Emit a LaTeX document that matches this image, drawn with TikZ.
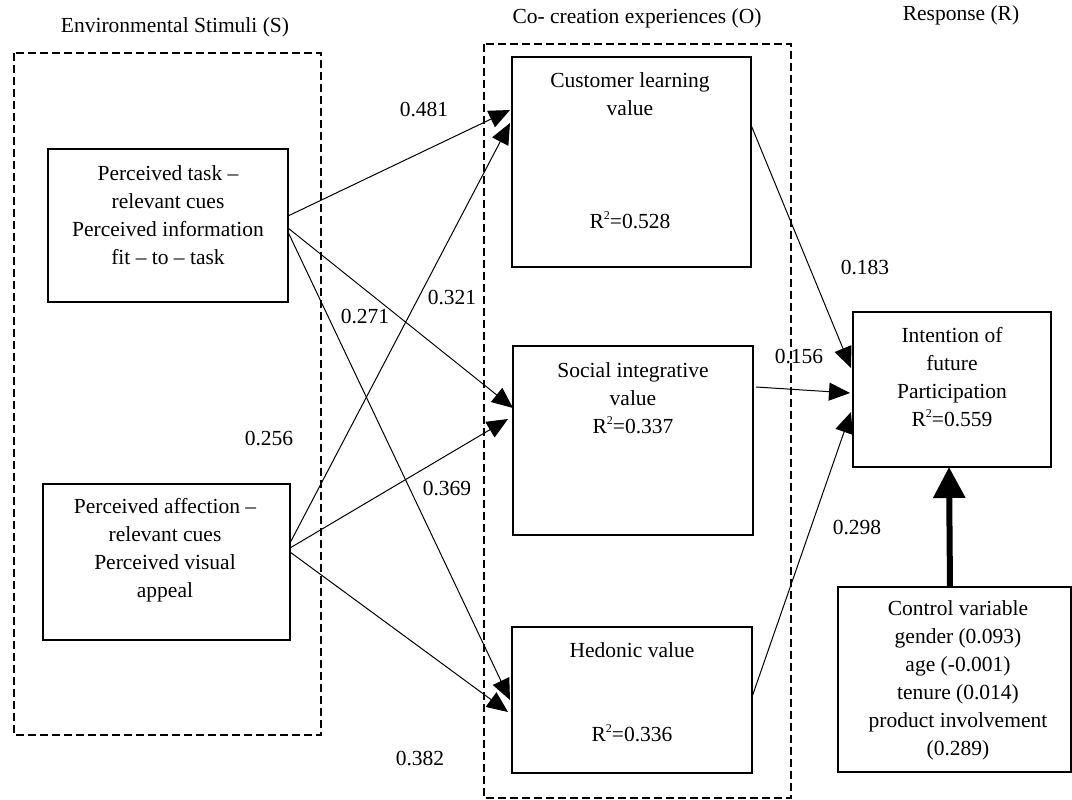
\documentclass[tikz,border=0pt]{standalone}
\usepackage{fontspec}
\setmainfont{Liberation Serif}
\usetikzlibrary{arrows.meta}
\newcommand{\sqr}{\raisebox{0.42em}{\fontsize{12}{12}\selectfont 2}}
\begin{document}
\begin{tikzpicture}[x=1pt,y=-1pt,
  font=\fontsize{21.5}{28}\selectfont,
  grp/.style={draw, line width=2pt, dash pattern=on 8pt off 4pt},
  box/.style={draw, line width=2pt, inner sep=0pt, outer sep=0pt},
  txt/.style={inner sep=0pt, align=center},
  lbl/.style={inner sep=0pt},
  arr/.style={line width=1pt, -{Triangle[length=21pt,width=18pt]}},
  bigarr/.style={line width=6pt, -{Triangle[length=31pt,width=31pt]}}
]
\useasboundingbox (0,0) rectangle (1072,800);
% group frames
\draw[grp] (14,53) rectangle (321,735);
\draw[grp] (484,44) rectangle (791,798);
% titles
\node[txt] (tS) at (175,27) {Environmental Stimuli (S)};
\node[txt] (tO) at (637,18) {Co- creation experiences (O)};
\node[txt] (tR) at (961,15) {Response (R)};
% boxes
\node[box, minimum width=240pt, minimum height=153pt] (task) at (168,225.5) {};
\node[box, minimum width=247pt, minimum height=156pt] (aff) at (166.5,562) {};
\node[box, minimum width=239pt, minimum height=210pt] (clv) at (631.5,162) {};
\node[box, minimum width=240pt, minimum height=189pt] (siv) at (633,440.5) {};
\node[box, minimum width=240pt, minimum height=146pt] (hed) at (632,700) {};
\node[box, minimum width=198pt, minimum height=155pt] (int) at (952,389.5) {};
\node[box, minimum width=233pt, minimum height=185pt] (ctl) at (954.5,679.5) {};
% box texts
\node[txt] (taskT) at (168,215) {Perceived task --\\relevant cues\\Perceived information\\fit -- to -- task};
\node[txt] (affT) at (165,550) {Perceived affection --\\relevant cues\\Perceived visual\\appeal};
\node[txt] (clvT) at (630,94) {Customer learning\\value};
\node[txt] (clvR) at (630,220) {R\sqr=0.528};
\node[txt] (sivT) at (633,398) {Social integrative\\value\\R\sqr=0.337};
\node[txt] (hedT) at (632,650) {Hedonic value};
\node[txt] (hedR) at (632,733) {R\sqr=0.336};
\node[txt] (intT) at (952,377) {Intention of\\future\\Participation\\R\sqr=0.559};
\node[txt] (ctlT) at (958,680) {Control variable\\gender (0.093)\\age (-0.001)\\tenure (0.014)\\product involvement\\(0.289)};
% path coefficients
\node[lbl] (l481) at (424,110) {0.481};
\node[lbl] (l321) at (452,298) {0.321};
\node[lbl] (l271) at (365,317) {0.271};
\node[lbl] (l256) at (269,439) {0.256};
\node[lbl] (l369) at (447,489) {0.369};
\node[lbl] (l382) at (420,758) {0.382};
\node[lbl] (l183) at (865,268) {0.183};
\node[lbl] (l156) at (799,357) {0.156};
\node[lbl] (l298) at (857,527) {0.298};
% connectors S -> O
\draw[arr] ([yshift=9.5pt]task.east) -- ([xshift=-2pt,yshift=52pt]clv.west);
\draw[arr] ([yshift=-2.5pt]task.east) -- ([yshift=32.5pt]siv.west);
\draw[arr] ([yshift=-6.5pt]task.east) -- ([xshift=-2pt,yshift=0pt]hed.west);
\draw[arr] ([yshift=19pt]aff.east) -- ([xshift=-2pt,yshift=39pt]clv.west);
\draw[arr] ([yshift=14pt]aff.east) -- ([xshift=-5pt,yshift=21.5pt]siv.west);
\draw[arr] ([yshift=10pt]aff.east) -- ([xshift=-4pt,yshift=-12pt]hed.west);
% connectors O -> R
\draw[arr] ([yshift=37pt]clv.east) -- ([xshift=-2pt,yshift=21.5pt]int.west);
\draw[arr] ([xshift=3pt,yshift=53.5pt]siv.east) -- ([xshift=-3pt,yshift=-3.5pt]int.west);
\draw[arr] ([yshift=3pt]hed.east) -- ([xshift=-2pt,yshift=-22.5pt]int.west);
% control
\draw[bigarr] ([xshift=-4.5pt]ctl.north) -- ([xshift=-3pt]int.south);
\end{tikzpicture}
\end{document}
